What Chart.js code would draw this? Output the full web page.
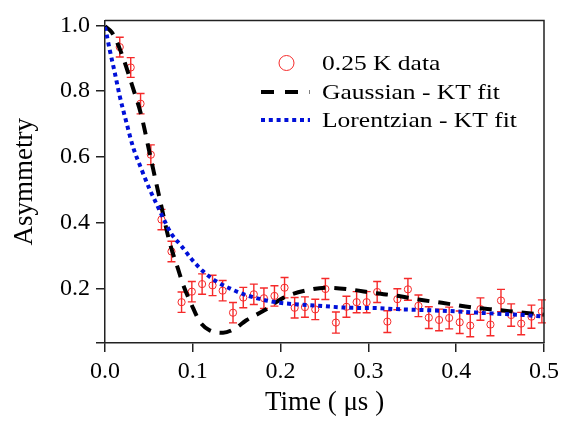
<!DOCTYPE html>
<html>
<head>
<meta charset="utf-8">
<script src="https://cdn.jsdelivr.net/npm/chart.js@4.4.1/dist/chart.umd.min.js"></script>
<style>
  html, body { margin: 0; padding: 0; background: #fff; }
  canvas { display: block; }
</style>
</head>
<body>
<canvas id="muonChart" width="571" height="421"></canvas>
<script>
// --- données ---
const dataT = [0.0168, 0.0293, 0.0405, 0.0522, 0.0643, 0.0757, 0.0872, 0.0989, 0.1106, 0.1225,
  0.1340, 0.1458, 0.1575, 0.1695, 0.1810, 0.1930, 0.2045, 0.2160, 0.2277, 0.2395,
  0.2510, 0.2630, 0.2750, 0.2866, 0.2980, 0.3100, 0.3216, 0.3330, 0.3450, 0.3570,
  0.3688, 0.3805, 0.3920, 0.4040, 0.4160, 0.4276, 0.4390, 0.4510, 0.4626, 0.4740,
  0.4857, 0.4976];
const dataA = [0.934, 0.872, 0.762, 0.607, 0.410, 0.313, 0.159, 0.191, 0.214, 0.210,
  0.194, 0.127, 0.173, 0.183, 0.171, 0.178, 0.203, 0.142, 0.144, 0.137,
  0.199, 0.097, 0.145, 0.159, 0.159, 0.190, 0.100, 0.168, 0.198, 0.148,
  0.112, 0.105, 0.111, 0.098, 0.088, 0.138, 0.091, 0.164, 0.120, 0.094,
  0.115, 0.131];
const dataErr = [0.030, 0.030, 0.031, 0.030, 0.031, 0.031, 0.031, 0.031, 0.031, 0.031,
  0.031, 0.031, 0.031, 0.031, 0.031, 0.031, 0.031, 0.031, 0.031, 0.031,
  0.032, 0.032, 0.032, 0.032, 0.032, 0.032, 0.033, 0.032, 0.033, 0.033,
  0.033, 0.033, 0.033, 0.034, 0.034, 0.034, 0.034, 0.034, 0.034, 0.034,
  0.035, 0.035];

const gaussT = [0, 0.008, 0.0175, 0.033, 0.0415, 0.051, 0.0624, 0.0738, 0.0832, 0.089,
  0.0985, 0.108, 0.119, 0.1345, 0.148, 0.161, 0.182, 0.203, 0.228, 0.254,
  0.281, 0.3056, 0.331, 0.357, 0.3836, 0.4215, 0.446, 0.473, 0.5];
const gaussA = [0.997, 0.978, 0.924, 0.800, 0.725, 0.610, 0.472, 0.339, 0.260, 0.212,
  0.152, 0.100, 0.074, 0.066, 0.079, 0.104, 0.135, 0.172, 0.194, 0.203,
  0.197, 0.187, 0.179, 0.167, 0.157, 0.142, 0.136, 0.128, 0.121];

const lorT = [0, 0.0016, 0.0054, 0.011, 0.0168, 0.0244, 0.032, 0.0415, 0.051, 0.0586,
  0.068, 0.0757, 0.087, 0.0985, 0.112, 0.127, 0.142, 0.157, 0.176, 0.199,
  0.222, 0.2486, 0.279, 0.3095, 0.332, 0.3626, 0.4007, 0.4387, 0.4766, 0.5];
const lorA = [0.995, 0.976, 0.925, 0.858, 0.785, 0.705, 0.630, 0.563, 0.501, 0.458,
  0.405, 0.366, 0.330, 0.290, 0.252, 0.222, 0.201, 0.184, 0.169, 0.157,
  0.152, 0.147, 0.142, 0.141, 0.138, 0.135, 0.131, 0.125, 0.120, 0.115];

const xTicks = [0.0, 0.1, 0.2, 0.3, 0.4, 0.5];
const yTicks = [0.2, 0.4, 0.6, 0.8, 1.0];
const xMin = 0, xMax = 0.5;
const yMin = 0.035, yMax = 1.015;

const labels = ['0.25 K data', 'Gaussian - KT fit', 'Lorentzian - KT fit'];

const RED = '#f52a2a';
const BLUE = '#0010d8';
const AXIS = '#222';
const SERIF = "'Liberation Serif', 'Times New Roman', serif";

const toPts = (xs, ys) => xs.map((x, i) => ({ x: x, y: ys[i] }));

// barres d'erreur + cadre
const errorBars = {
  id: 'errorBars',
  beforeDatasetsDraw(chart) {
    const { ctx, scales: { x, y } } = chart;
    ctx.save();
    ctx.strokeStyle = RED;
    ctx.lineWidth = 1.4;
    dataT.forEach((t, i) => {
      const px = x.getPixelForValue(t);
      const top = y.getPixelForValue(dataA[i] + dataErr[i]);
      const bot = y.getPixelForValue(dataA[i] - dataErr[i]);
      ctx.beginPath();
      ctx.moveTo(px, top); ctx.lineTo(px, bot);
      ctx.moveTo(px - 4, top); ctx.lineTo(px + 4, top);
      ctx.moveTo(px - 4, bot); ctx.lineTo(px + 4, bot);
      ctx.stroke();
    });
    ctx.restore();
  },
  afterDraw(chart) {
    const { ctx, chartArea: a } = chart;
    ctx.save();
    ctx.strokeStyle = AXIS;
    ctx.lineWidth = 1.5;
    ctx.beginPath();
    ctx.moveTo(a.left, a.top); ctx.lineTo(a.right, a.top); ctx.lineTo(a.right, a.bottom);
    ctx.stroke();
    ctx.restore();
  }
};

// légende dessinée dans la zone du graphe (texte un peu étiré comme l'original)
const insideLegend = {
  id: 'insideLegend',
  afterDraw(chart) {
    const ctx = chart.ctx;
    ctx.save();
    ctx.font = '22px ' + SERIF;
    ctx.fillStyle = '#000';
    ctx.textBaseline = 'alphabetic';
    [70, 98.5, 126.5].forEach((yy, i) => {
      ctx.save();
      ctx.translate(322, yy);
      ctx.scale(1.16, 1);
      ctx.fillText(labels[i], 0, 0);
      ctx.restore();
    });

    ctx.strokeStyle = RED; ctx.lineWidth = 1;
    ctx.beginPath(); ctx.arc(286.5, 63, 7.5, 0, Math.PI * 2); ctx.stroke();

    ctx.strokeStyle = '#000'; ctx.lineWidth = 4; ctx.setLineDash([13, 11]);
    ctx.beginPath(); ctx.moveTo(261, 92); ctx.lineTo(309.5, 92); ctx.stroke();

    ctx.strokeStyle = BLUE; ctx.lineWidth = 4; ctx.setLineDash([4, 3.8]);
    ctx.beginPath(); ctx.moveTo(261, 120); ctx.lineTo(310, 120); ctx.stroke();
    ctx.restore();
  }
};

new Chart(document.getElementById('muonChart'), {
  type: 'scatter',
  data: {
    datasets: [
      {
        label: labels[0],
        data: toPts(dataT, dataA),
        pointStyle: 'circle',
        pointRadius: 3.6,
        borderColor: RED,
        backgroundColor: 'rgba(0,0,0,0)',
        borderWidth: 1,
        showLine: false,
        order: 3
      },
      {
        label: labels[1],
        data: toPts(gaussT, gaussA),
        showLine: true,
        borderColor: '#000',
        borderWidth: 4,
        borderDash: [12, 9],
        pointRadius: 0,
        cubicInterpolationMode: 'monotone',
        order: 2
      },
      {
        label: labels[2],
        data: toPts(lorT, lorA),
        showLine: true,
        borderColor: BLUE,
        borderWidth: 4,
        borderDash: [4, 3.8],
        pointRadius: 0,
        cubicInterpolationMode: 'monotone',
        order: 1
      }
    ]
  },
  options: {
    responsive: false,
    animation: false,
    devicePixelRatio: 1,
    layout: { padding: { top: 11, right: 27, left: 0, bottom: 0 } },
    plugins: { legend: { display: false }, tooltip: { enabled: false } },
    scales: {
      x: {
        type: 'linear', min: xMin, max: xMax,
        afterBuildTicks: s => { s.ticks = xTicks.map(v => ({ value: v })); },
        afterFit: s => { s.height = 78; },
        grid: { drawOnChartArea: false, drawTicks: true, tickLength: 9, color: AXIS, lineWidth: 1.5 },
        border: { display: true, color: AXIS, width: 1.5 },
        ticks: { color: '#000', padding: 5, maxRotation: 0, font: { family: SERIF, size: 24 },
          callback: v => v.toFixed(1) },
        title: { display: true, text: 'Time ( μs )', color: '#000',
          font: { family: SERIF, size: 27 }, padding: { top: 0, bottom: 2 } }
      },
      y: {
        type: 'linear', min: yMin, max: yMax,
        afterBuildTicks: s => { s.ticks = [yMin].concat(yTicks).map(v => ({ value: v })); },
        afterFit: s => { s.width = 105; },
        grid: { drawOnChartArea: false, drawTicks: true, tickLength: 9, color: AXIS, lineWidth: 1.5 },
        border: { display: true, color: AXIS, width: 1.5 },
        ticks: { color: '#000', padding: 6, font: { family: SERIF, size: 24 },
          callback: v => (v === yMin ? '' : v.toFixed(1)) },
        title: { display: true, text: 'Asymmetry', color: '#000',
          font: { family: SERIF, size: 27 }, padding: { top: 9, bottom: 0 } }
      }
    }
  },
  plugins: [errorBars, insideLegend]
});
</script>
</body>
</html>
